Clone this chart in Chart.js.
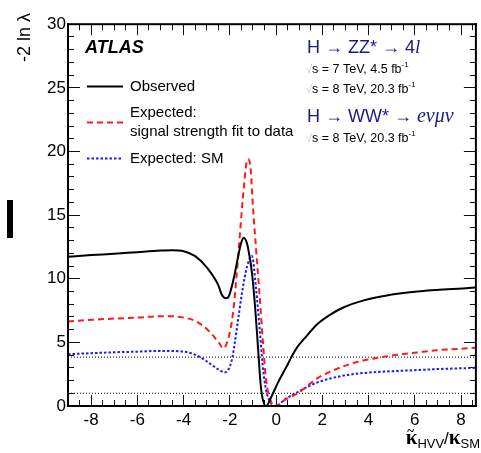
<!DOCTYPE html>
<html>
<head>
<meta charset="utf-8">
<script src="https://cdn.jsdelivr.net/npm/chart.js@4.4.1/dist/chart.umd.min.js"></script>
<style>
  html, body { margin: 0; padding: 0; background: #fff; }
</style>
</head>
<body>
<canvas id="scan" width="481" height="453"></canvas>
<script>
// -2 ln(lambda) scan versus kappa-tilde_HVV / kappa_SM
const obsX = [-9.0, -8.0, -7.0, -6.0, -5.0, -4.5, -4.0, -3.5, -3.0, -2.5, -2.35, -2.15, -2.05, -1.93, -1.8, -1.7, -1.57, -1.48, -1.4, -1.3, -1.21, -1.04, -0.9, -0.78, -0.67, -0.57, -0.43, -0.21, 0.07, 0.3, 0.5, 0.66, 0.93, 1.22, 1.79, 2.36, 2.93, 3.79, 4.79, 5.79, 6.93, 8.07, 8.64];
const obsY = [11.73, 11.86, 11.96, 12.09, 12.21, 12.24, 12.16, 11.78, 10.9, 9.5, 8.75, 8.47, 8.6, 9.3, 10.3, 11.2, 12.4, 13.0, 13.23, 13.0, 12.4, 10.4, 7.58, 4.53, 1.73, 0.46, 0.0, 0.71, 1.8, 2.6, 3.26, 3.84, 4.66, 5.29, 6.44, 7.2, 7.76, 8.3, 8.68, 8.93, 9.11, 9.24, 9.31];

const fitX = [-9.0, -8.0, -7.0, -6.0, -5.0, -4.5, -4.0, -3.5, -3.0, -2.5, -2.28, -2.07, -1.86, -1.72, -1.57, -1.43, -1.29, -1.2, -1.1, -1.0, -0.86, -0.71, -0.57, -0.43, -0.21, -0.07, 0.1, 0.36, 0.93, 1.79, 2.64, 3.5, 4.36, 5.21, 6.07, 6.93, 7.79, 8.64];
const fitY = [6.64, 6.77, 6.87, 6.95, 7.05, 7.05, 6.95, 6.69, 6.05, 5.04, 4.53, 5.29, 7.33, 10.0, 13.4, 16.5, 19.0, 19.4, 18.6, 15.6, 12.2, 8.6, 5.04, 1.98, 0.33, 0.0, 0.1, 0.46, 0.99, 2.19, 2.93, 3.46, 3.77, 4.02, 4.2, 4.38, 4.48, 4.58];

const smX = [-9.0, -8.0, -7.0, -6.0, -5.0, -4.0, -3.5, -3.0, -2.5, -2.22, -1.93, -1.78, -1.64, -1.5, -1.36, -1.25, -1.05, -0.86, -0.71, -0.57, -0.43, -0.21, 0.0, 0.4, 0.93, 1.79, 2.64, 3.5, 4.36, 5.21, 6.07, 6.93, 7.79, 8.64];
const smY = [4.07, 4.15, 4.22, 4.27, 4.33, 4.27, 4.02, 3.51, 2.88, 2.64, 3.51, 5.04, 6.82, 8.6, 10.1, 11.0, 11.8, 9.1, 6.05, 3.0, 1.22, 0.2, 0.0, 0.55, 1.09, 1.86, 2.29, 2.54, 2.67, 2.75, 2.82, 2.9, 2.95, 3.0];

// 68% and 95% CL levels
const refLevels = [1, 3.84];

const xRange = [-9, 8.64];
const yRange = [0, 30];
const xTickValues = [-8, -6, -4, -2, 0, 2, 4, 6, 8];
const yTickValues = [0, 5, 10, 15, 20, 25, 30];
const xMinorValues = [-9, -8.5, -7.5, -7, -6.5, -5.5, -5, -4.5, -3.5, -3, -2.5, -1.5, -1, -0.5, 0.5, 1, 1.5, 2.5, 3, 3.5, 4.5, 5, 5.5, 6.5, 7, 7.5, 8.5];
const yMinorValues = [1, 2, 3, 4, 6, 7, 8, 9, 11, 12, 13, 14, 16, 17, 18, 19, 21, 22, 23, 24, 26, 27, 28, 29];

const SANS = "'Liberation Sans', Arial, Helvetica, sans-serif";
const SERIF = "'Liberation Serif', 'Times New Roman', serif";
const NAVY = '#1b1b7e';

const toPoints = (px, py) => px.map((v, i) => ({ x: v, y: py[i] }));

const curve = (data, color, dash) => ({
  data: data,
  borderColor: color,
  borderWidth: 2,
  borderDash: dash,
  pointRadius: 0,
  fill: false,
  cubicInterpolationMode: 'monotone',
});

const datasets = [
  curve(toPoints(obsX, obsY), '#000', []),
  curve(toPoints(fitX, fitY), '#ff1a1a', [6, 4]),
  curve(toPoints(smX, smY), '#1a1aff', [2.5, 2]),
];
refLevels.forEach((lvl) => {
  datasets.push({
    data: [{ x: xRange[0], y: lvl }, { x: xRange[1], y: lvl }],
    borderColor: '#000',
    borderWidth: 1,
    borderDash: [1, 2],
    pointRadius: 0,
    order: 5,
  });
});

// tick-only axis: no labels, zero size, tick marks pointing into the plot
// (a negative tickLength makes Chart.js draw them inwards)
function tickAxis(axis, position, range, values, len, weight) {
  return {
    type: 'linear',
    axis: axis,
    position: position,
    weight: weight,
    min: range[0],
    max: range[1],
    afterBuildTicks: (s) => { s.ticks = values.map((v) => ({ value: v })); },
    afterFit: (s) => {
      if (axis === 'x') s.height = 0; else s.width = 0;
    },
    grid: { display: true, drawOnChartArea: false, drawTicks: true, tickLength: -len, color: '#111', lineWidth: 1 },
    border: { display: false },
    ticks: { display: false },
  };
}

// writes text pieces one after another, returns the end x
function rich(ctx, x, y, parts, draw = true) {
  for (const p of parts) {
    ctx.font = p.font;
    if (draw) {
      ctx.fillStyle = p.color || '#000';
      ctx.fillText(p.t, x, y + (p.dy || 0));
    }
    x += ctx.measureText(p.t).width + (p.gap || 0);
  }
  return x;
}

const frameAndText = {
  id: 'frameAndText',
  afterDraw(chart) {
    const ctx = chart.ctx;
    const a = chart.chartArea;

    // plot frame
    ctx.save();
    ctx.fillStyle = '#000';
    ctx.fillRect(a.left - 1, a.top - 1, 2, a.bottom - a.top + 2);
    ctx.fillRect(a.right - 1, a.top - 1, 2, a.bottom - a.top + 2);
    ctx.fillRect(a.left - 1, a.top - 1, a.right - a.left + 2, 2);
    ctx.fillRect(a.left - 1, a.bottom - 1, a.right - a.left + 2, 2);
    ctx.restore();

    ctx.save();
    ctx.setLineDash([]);
    ctx.textBaseline = 'alphabetic';
    ctx.textAlign = 'left';

    // y axis title
    ctx.save();
    ctx.translate(30, 13);
    ctx.rotate(-Math.PI / 2);
    ctx.textAlign = 'right';
    ctx.font = '18px ' + SANS;
    ctx.fillStyle = '#000';
    ctx.fillText('-2 ln \u03bb', 0, 0);
    ctx.restore();

    // x axis title
    const xt = [
      { t: '\u03ba', font: 'bold 21px ' + SERIF },
      { t: 'HVV', font: '13px ' + SANS, dy: 4 },
      { t: '/', font: '17px ' + SANS },
      { t: '\u03ba', font: 'bold 21px ' + SERIF },
      { t: 'SM', font: '13px ' + SANS, dy: 4 },
    ];
    const xtw = rich(ctx, 0, 0, xt, false);
    const x0 = 480 - xtw;
    rich(ctx, x0, 444, xt);
    ctx.font = 'bold 13px ' + SERIF;
    ctx.fillStyle = '#000';
    ctx.fillText('~', x0 + 1.5, 435);

    // legend block
    ctx.font = 'bold italic 18px ' + SANS;
    ctx.fillText('ATLAS', 85, 53);

    const rows = [
      { y: 86, ds: datasets[0] },
      { y: 122, ds: datasets[1] },
      { y: 158, ds: datasets[2] },
    ];
    rows.forEach((r) => {
      ctx.beginPath();
      ctx.strokeStyle = r.ds.borderColor;
      ctx.lineWidth = 2;
      ctx.setLineDash(r.ds.borderDash);
      ctx.moveTo(87, r.y + 0.5);
      ctx.lineTo(123, r.y + 0.5);
      ctx.stroke();
    });
    ctx.setLineDash([]);
    ctx.font = '15px ' + SANS;
    ctx.fillStyle = '#000';
    ctx.fillText('Observed', 130, 91);
    ctx.fillText('Expected:', 130, 117);
    ctx.fillText('signal strength fit to data', 130, 136);
    ctx.fillText('Expected: SM', 130, 163);

    // channel labels
    rich(ctx, 307, 53, [
      { t: 'H \u2192 ZZ* \u2192 4', font: '18px ' + SANS, color: NAVY },
      { t: 'l', font: 'italic 19px ' + SERIF, color: NAVY },
    ]);
    const energy = (y, txt) => rich(ctx, 306, y, [
      { t: '\u221a', font: '11px ' + SANS, color: '#c8c8c8' },
      { t: txt, font: '12.5px ' + SANS },
      { t: '-1', font: '8px ' + SANS, dy: -6 },
    ]);
    energy(72.5, 's = 7 TeV, 4.5 fb');
    energy(92.5, 's = 8 TeV, 20.3 fb');
    rich(ctx, 307, 121.5, [
      { t: 'H \u2192 WW* \u2192 ', font: '18px ' + SANS, color: NAVY },
      { t: 'e\u03bd\u03bc\u03bd', font: 'italic 20px ' + SERIF, color: NAVY },
    ]);
    energy(141.5, 's = 8 TeV, 20.3 fb');

    // marker bar at the left edge
    ctx.fillStyle = '#000';
    ctx.fillRect(7, 200, 6, 38);
    ctx.restore();
  },
};

new Chart(document.getElementById('scan'), {
  type: 'line',
  data: { datasets: datasets },
  options: {
    responsive: false,
    animation: false,
    layout: { padding: { top: 13, right: 1, left: 0, bottom: 0 } },
    plugins: { legend: { display: false }, tooltip: { enabled: false } },
    scales: {
      x: {
        type: 'linear',
        min: xRange[0],
        max: xRange[1],
        afterBuildTicks: (s) => { s.ticks = xTickValues.map((v) => ({ value: v })); },
        afterFit: (s) => { s.height = 47; },
        grid: { display: true, drawOnChartArea: false, drawTicks: true, tickLength: -11, color: '#111', lineWidth: 1 },
        border: { display: false },
        ticks: { color: '#000', padding: 15, maxRotation: 0, autoSkip: false, font: { family: SANS, size: 17 } },
      },
      y: {
        type: 'linear',
        min: yRange[0],
        max: yRange[1],
        afterBuildTicks: (s) => { s.ticks = yTickValues.map((v) => ({ value: v })); },
        afterFit: (s) => { s.width = 68; },
        grid: { display: true, drawOnChartArea: false, drawTicks: true, tickLength: -12, color: '#111', lineWidth: 1 },
        border: { display: false },
        ticks: { color: '#000', padding: 14, autoSkip: false, font: { family: SANS, size: 17 } },
      },
      xMinor: tickAxis('x', 'bottom', xRange, xMinorValues, 6, -1),
      xTop: tickAxis('x', 'top', xRange, xTickValues, 11, 0),
      xTopMinor: tickAxis('x', 'top', xRange, xMinorValues, 6, -1),
      yMinor: tickAxis('y', 'left', yRange, yMinorValues, 6, -1),
      yRight: tickAxis('y', 'right', yRange, yTickValues, 12, 0),
      yRightMinor: tickAxis('y', 'right', yRange, yMinorValues, 6, -1),
    },
  },
  plugins: [frameAndText],
});
</script>
</body>
</html>
